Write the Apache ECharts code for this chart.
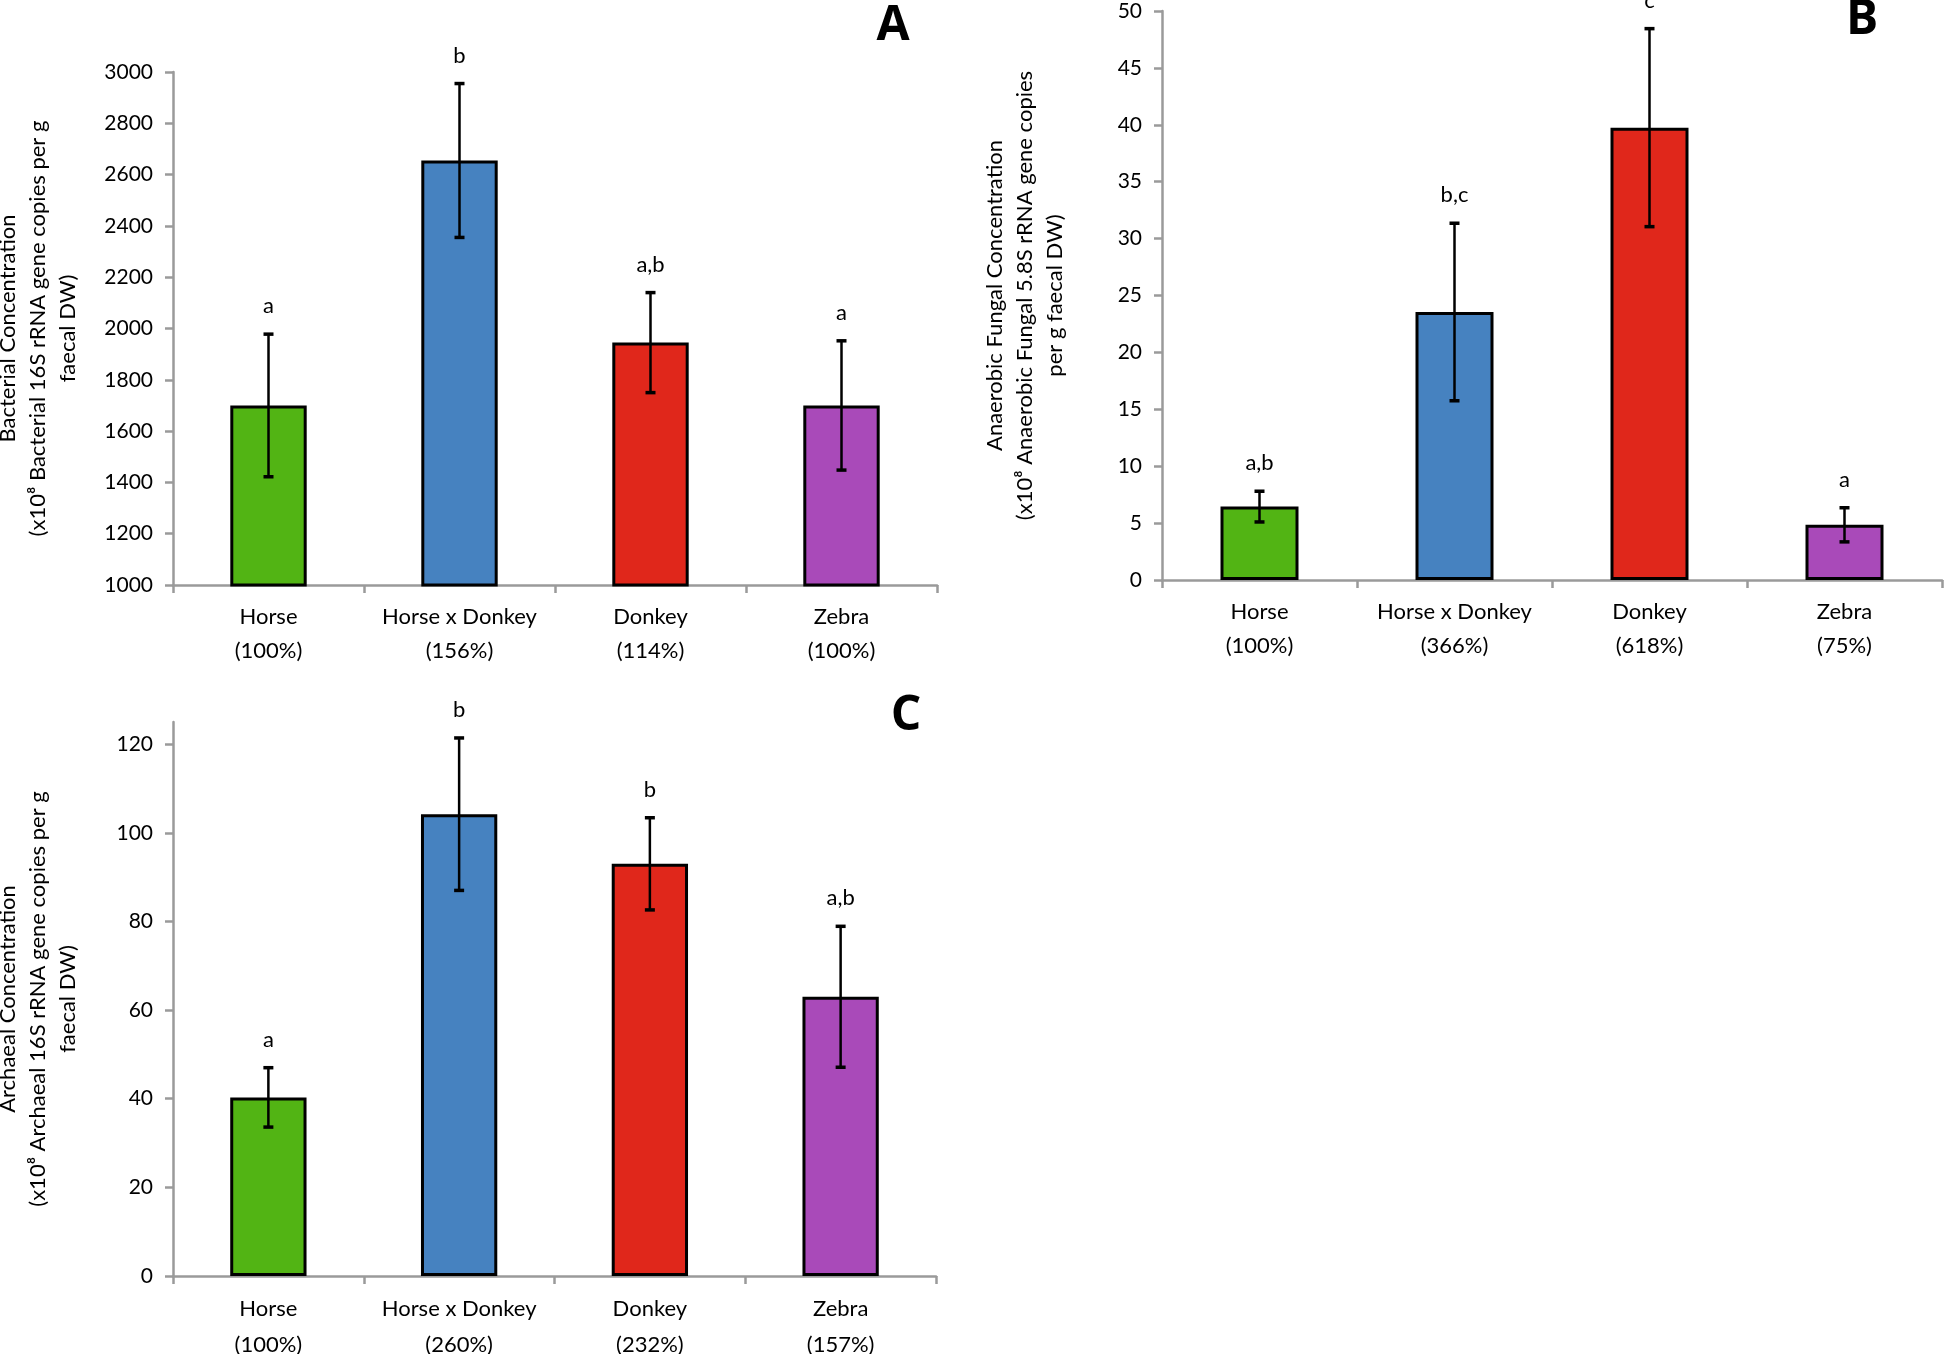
<!DOCTYPE html>
<html>
<head>
<meta charset="utf-8">
<script src="https://cdn.jsdelivr.net/npm/echarts@6/dist/echarts.min.js"></script>
<style>
  html, body { margin: 0; padding: 0; background: #fff; }
  #main { width: 1946px; height: 1354px; }
</style>
</head>
<body>
<div id="main"></div>
<script>
var animals = ['Horse', 'Horse x Donkey', 'Donkey', 'Zebra']
var barColors = ['#52b414', '#4682c0', '#e0271b', '#a94ab9']

// A: bacteria
var pctA = ['100%', '156%', '114%', '100%']
var meanA = [1700, 2655, 1945, 1700]
var sdA = [278, 300, 195, 252]
var letA = ['a', 'b', 'a,b', 'a']

// B: anaerobic fungi
var pctB = ['100%', '366%', '618%', '75%']
var meanB = [6.45, 23.55, 39.75, 4.85]
var sdB = [1.35, 7.8, 8.7, 1.5]
var letB = ['a,b', 'b,c', 'c', 'a']

// C: archaea
var pctC = ['100%', '260%', '232%', '157%']
var meanC = [40.3, 104.2, 93.0, 63.0]
var sdC = [6.7, 17.2, 10.4, 15.9]
var letC = ['a', 'b', 'b', 'a,b']
var ticksC = [0, 20, 40, 60, 80, 100, 120]

var font = 'Lato'
var axisGrey = '#9a9a9a'

function catAxis(idx, pct, lh) {
    return {
        type: 'category',
        gridIndex: idx,
        data: animals.map(function (a, i) { return a + '\n(' + pct[i] + ')' }),
        axisLine: { lineStyle: { color: axisGrey, width: 2.5 } },
        axisTick: { show: true, length: 8, lineStyle: { color: axisGrey, width: 2.5 } },
        axisLabel: { color: '#000', fontSize: 22, fontFamily: font, lineHeight: lh, margin: 15, interval: 0 }
    }
}

function valAxis(idx, min, max, interval, name, gap) {
    return {
        type: 'value',
        gridIndex: idx,
        min: min,
        max: max,
        interval: interval,
        splitLine: { show: false },
        axisLine: { show: true, lineStyle: { color: axisGrey, width: 2.5 } },
        axisTick: { show: true, length: 8, lineStyle: { color: axisGrey, width: 2.5 } },
        axisLabel: {
            color: '#000', fontSize: 21, fontFamily: font, margin: 20,
            formatter: function (v) { return String(v) }
        },
        name: name,
        nameLocation: 'middle',
        nameRotate: 90,
        nameGap: gap,
        nameTextStyle: { color: '#000', fontSize: 22, fontFamily: font, lineHeight: 30, align: 'center' }
    }
}

function bars(idx, means) {
    return {
        type: 'bar',
        xAxisIndex: idx,
        yAxisIndex: idx,
        barWidth: '40%',
        data: means.map(function (v, i) {
            return { value: v, itemStyle: { color: barColors[i] } }
        }),
        itemStyle: { borderColor: '#000', borderWidth: 3 },
        silent: true
    }
}

function errBars(idx, means, sds, letters) {
    return {
        type: 'custom',
        xAxisIndex: idx,
        yAxisIndex: idx,
        z: 10,
        silent: true,
        data: means.map(function (m, i) { return [i, m - sds[i], m + sds[i]] }),
        renderItem: function (params, api) {
            var lo = api.coord([api.value(0), api.value(1)])
            var hi = api.coord([api.value(0), api.value(2)])
            var x = lo[0], cap = 5
            var st = { stroke: '#000', lineWidth: 2.5 }
            return {
                type: 'group',
                children: [
                    { type: 'line', shape: { x1: x, y1: lo[1], x2: x, y2: hi[1] }, style: st },
                    { type: 'line', shape: { x1: x - cap, y1: lo[1], x2: x + cap, y2: lo[1] }, style: { stroke: '#000', lineWidth: 3.5 } },
                    { type: 'line', shape: { x1: x - cap, y1: hi[1], x2: x + cap, y2: hi[1] }, style: { stroke: '#000', lineWidth: 3.5 } },
                    {
                        type: 'text',
                        style: {
                            text: letters[params.dataIndex], x: x, y: hi[1] - 28,
                            fill: '#000', font: '22px ' + font, align: 'center', verticalAlign: 'middle'
                        }
                    }
                ]
            }
        }
    }
}

var nameA = 'Bacterial Concentration\n(x10⁸ Bacterial 16S rRNA gene copies per g\nfaecal DW)'
var nameB = 'Anaerobic Fungal Concentration\n(x10⁸ Anaerobic Fungal 5.8S rRNA gene copies\nper g faecal DW)'
var nameC = 'Archaeal Concentration\n(x10⁸ Archaeal 16S rRNA gene copies per g\nfaecal DW)'

var axC = valAxis(2, 0, 125, 20, nameC, 90)
axC.axisLabel.customValues = ticksC
axC.axisTick.customValues = ticksC

var option = {
    backgroundColor: '#fff',
    animation: false,
    grid: [
        { left: 173, top: 72, width: 764, height: 513, outerBoundsMode: 'none' },
        { left: 1162, top: 11, width: 780, height: 569, outerBoundsMode: 'none' },
        { left: 173, top: 722, width: 763, height: 554, outerBoundsMode: 'none' }
    ],
    xAxis: [catAxis(0, pctA, 34), catAxis(1, pctB, 34), catAxis(2, pctC, 36)],
    yAxis: [
        valAxis(0, 1000, 3000, 200, nameA, 90),
        valAxis(1, 0, 50, 5, nameB, 92),
        axC
    ],
    series: [
        bars(0, meanA), errBars(0, meanA, sdA, letA),
        bars(1, meanB), errBars(1, meanB, sdB, letB),
        bars(2, meanC), errBars(2, meanC, sdC, letC)
    ],
    graphic: [
        { type: 'text', x: 893, y: 26, style: { text: 'A', font: 'bold 48px "Open Sans"', fill: '#000', align: 'center', verticalAlign: 'middle' } },
        { type: 'text', x: 1862, y: 20, style: { text: 'B', font: 'bold 48px "Open Sans"', fill: '#000', align: 'center', verticalAlign: 'middle' } },
        { type: 'text', x: 906, y: 716, style: { text: 'C', font: 'bold 48px "Open Sans"', fill: '#000', align: 'center', verticalAlign: 'middle' } }
    ]
}

var chart = echarts.init(document.getElementById('main'))
chart.setOption(option)
</script>
</body>
</html>
